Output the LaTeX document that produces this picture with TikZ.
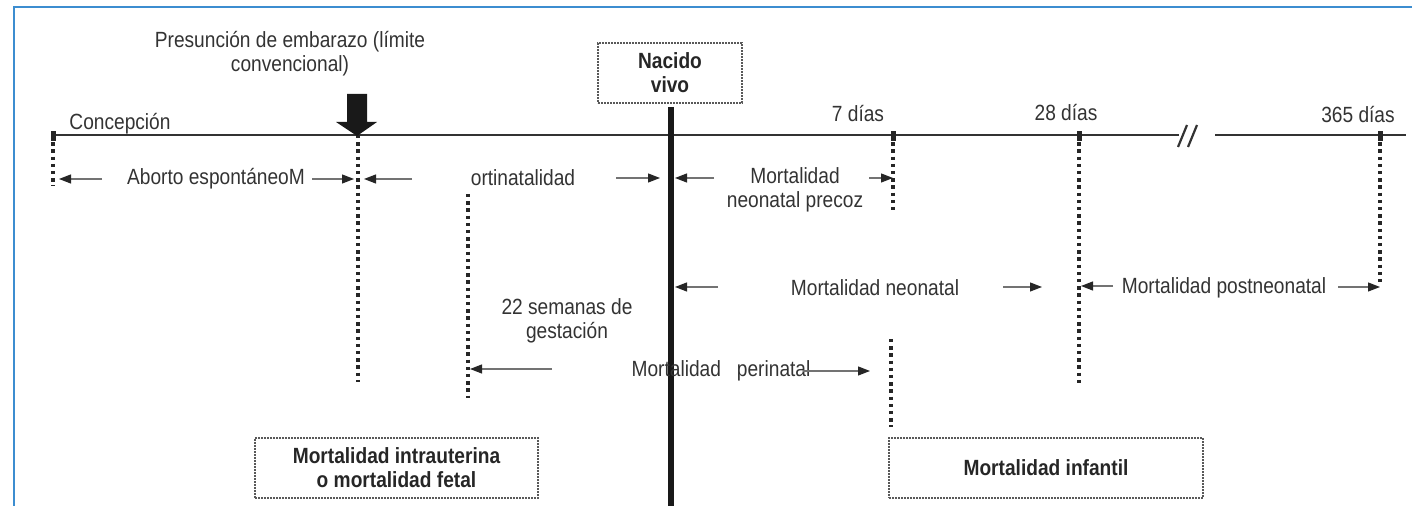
\documentclass[tikz,border=0pt]{standalone}
\usepackage{fontspec}
\setmainfont{Liberation Sans}[FakeStretch=0.87]
\usetikzlibrary{arrows.meta}
\definecolor{txt}{HTML}{333333}
\definecolor{framec}{HTML}{3C8DD0}
\begin{document}
\begin{tikzpicture}[x=0.5pt,y=-0.5pt,
  lbl/.style={font=\fontsize{11}{12}\selectfont, text=txt, inner sep=0pt, align=center},
  blbl/.style={font=\fontsize{11}{12}\selectfont\bfseries, text=black!85, inner sep=0pt, align=center},
  dotbox/.style={draw=black!65, line width=1pt, dash pattern=on 0.8pt off 0.7pt},
  vdots/.style={draw=black!85, line width=1.7pt, dash pattern=on 1.7pt off 1.9pt},
  arr/.style={draw=black!55, line width=0.6pt, -{Triangle[length=6pt,width=4.5pt,color=black!85]}},
  tline/.style={draw=black!80, line width=1.1pt},
]
\useasboundingbox (0,0) rectangle (1412,506);
% frame
\draw[framec, line width=1.2pt] (14,506) -- (14,7) -- (1412,7);

% timeline
\coordinate (t0) at (53,135);
\coordinate (tbrk1) at (1179,135);
\coordinate (tbrk2) at (1215,135);
\coordinate (tend) at (1406,135);
\draw[tline] (t0) -- (tbrk1);
\draw[tline] (tbrk2) -- (tend);
\draw[black!80, line width=1.1pt] (1178,147) -- (1187,125) (1188,147) -- (1197,125);

% ticks (dotted verticals)
\coordinate (c0t) at (53,135);   \coordinate (c0b) at (53,186);
\coordinate (c1t) at (358,135);  \coordinate (c1b) at (358,382);
\coordinate (c2t) at (468,194);  \coordinate (c2b) at (468,398);
\coordinate (c3t) at (893,135);  \coordinate (c3b) at (893,213);
\coordinate (c4t) at (891,339);  \coordinate (c4b) at (891,427);
\coordinate (c5t) at (1079,135); \coordinate (c5b) at (1079,386);
\coordinate (c6t) at (1380,135); \coordinate (c6b) at (1380,286);
\foreach \i in {0,...,6} {\draw[vdots] (c\i t) -- (c\i b);}
\foreach \x in {53,893,1079,1380} {\fill[black!85] (\x-2.5,131) rectangle (\x+2.5,141);}

% birth line
\coordinate (bt) at (671,107);
\coordinate (bb) at (671,506);
\draw[black!90, line width=2.6pt] (bt) -- (bb);

% big arrow
\fill[black!90] (347,94) -- (367,94) -- (367,122) -- (377,122) -- (357,136) -- (336,122) -- (347,122) -- cycle;

% labels on top
\node[lbl] (pres) at (290,54) {Presunción de embarazo (límite\\convencional)};
\node[lbl] (conc) at (120,124) {Concepción};
\node[lbl] (d7) at (858,114) {7 días};
\node[lbl] (d28) at (1066,113) {28 días};
\node[lbl] (d365) at (1358,115) {365 días};
\node[blbl, dotbox, minimum width=72pt, minimum height=30pt] (nv) at (670,73) {Nacido\\vivo};

% row 1
\node[lbl] (abo) at (216,179) {Aborto espontáneoM};
\node[lbl] (orti) at (523,178) {ortinatalidad};
\node[lbl] (mnp) at (795,190) {Mortalidad\\neonatal precoz};
\coordinate (a1s) at (102,179); \coordinate (a1e) at (59,179);
\coordinate (a2s) at (312,179); \coordinate (a2e) at (354,179);
\coordinate (a3s) at (412,179); \coordinate (a3e) at (364,179);
\coordinate (a4s) at (616,178); \coordinate (a4e) at (660,178);
\coordinate (a5s) at (714,178); \coordinate (a5e) at (675,178);
\coordinate (a6s) at (869,178); \coordinate (a6e) at (893,178);
\foreach \i in {1,...,6} {\draw[arr] (a\i s) -- (a\i e);}

% row 2
\node[lbl] (mn) at (875,288) {Mortalidad neonatal};
\node[lbl] (mpn) at (1224,288) {Mortalidad postneonatal};
\coordinate (b1s) at (718,287); \coordinate (b1e) at (675,287);
\coordinate (b2s) at (1003,287); \coordinate (b2e) at (1042,287);
\coordinate (b3s) at (1113,286); \coordinate (b3e) at (1081,286);
\coordinate (b4s) at (1338,287); \coordinate (b4e) at (1380,287);
\foreach \i in {1,...,4} {\draw[arr] (b\i s) -- (b\i e);}

% row 3
\node[lbl] (sem) at (567,321) {22 semanas de\\gestación};
\node[lbl] (peri) at (721,371) {Mortalidad\hspace{8pt}perinatal};
\coordinate (p1s) at (552,369); \coordinate (p1e) at (470,369);
\coordinate (p2s) at (803,371); \coordinate (p2e) at (870,371);
\draw[arr] (p1s) -- (p1e);
\draw[arr] (p2s) -- (p2e);

% bottom boxes
\node[blbl, dotbox, minimum width=141.5pt, minimum height=30pt] (fetal) at (396.5,468) {Mortalidad intrauterina\\o mortalidad fetal};
\node[blbl, dotbox, minimum width=157pt, minimum height=30pt] (inf) at (1046,468) {Mortalidad infantil};
\end{tikzpicture}
\end{document}
